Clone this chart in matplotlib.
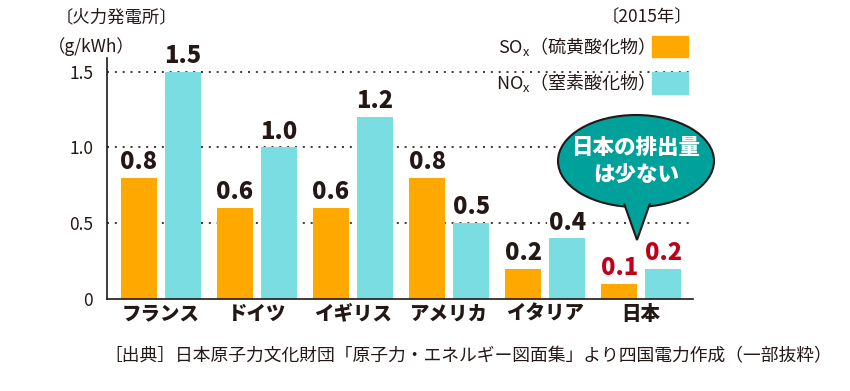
import matplotlib
matplotlib.use("Agg")
import matplotlib.pyplot as plt
from matplotlib.patches import Ellipse, Polygon
import numpy as np

plt.rcParams["font.family"] = ["Noto Sans CJK JP", "DejaVu Sans"]

# データ（2015年, g/kWh）
countries = ["フランス", "ドイツ", "イギリス", "アメリカ", "イタリア", "日本"]
sox = [0.8, 0.6, 0.6, 0.8, 0.2, 0.1]
nox = [1.5, 1.0, 1.2, 0.5, 0.4, 0.2]
yticks = [0, 0.5, 1.0, 1.5]
ytick_labels = ["0", "0.5", "1.0", "1.5"]

ORANGE = "#FFA800"
CYAN = "#7ADDE2"
DARK = "#231815"
RED = "#C0001A"
TEAL = "#00A19A"

W, H = 850, 391
fig = plt.figure(figsize=(W / 100, H / 100), dpi=100)
ax = fig.add_axes([107 / W, 1 - 299 / H, (693 - 107) / W, (299 - 58) / H])

x = np.arange(len(countries))
bw = 0.375
off = 0.229
ax.bar(x - off, sox, bw, color=ORANGE, zorder=2)
ax.bar(x + off, nox, bw, color=CYAN, zorder=2)

ax.set_xlim(-0.5625, 5.54)
ax.set_ylim(0, 1.59)
for v in yticks[1:]:
    ax.axhline(v, color=DARK, lw=1.2, ls=(0, (1.2, 3.5)), zorder=1)

# 値ラベル
for i in range(len(countries)):
    c = RED if countries[i] == "日本" else DARK
    for xx, v in ((x[i] - off, sox[i]), (x[i] + off, nox[i])):
        ax.text(xx, v + 0.025, f"{v:.1f}", ha="center", va="bottom",
                fontsize=17, fontweight="heavy", color=c, zorder=3,
                bbox=dict(facecolor="white", edgecolor="none", pad=1))

ax.set_yticks(yticks)
ax.set_yticklabels(ytick_labels, fontsize=12.5, color=DARK)
ax.set_xticks(x)
ax.set_xticklabels(countries, fontsize=14, fontweight="heavy", color=DARK)
ax.tick_params(axis="both", length=0)
ax.tick_params(axis="y", pad=10)
ax.tick_params(axis="x", pad=4)
for s in ("top", "right"):
    ax.spines[s].set_visible(False)
ax.spines["left"].set_color(DARK)
ax.spines["bottom"].set_color(DARK)
ax.spines["left"].set_linewidth(1.2)
ax.spines["bottom"].set_linewidth(1.2)

# 注釈用のピクセル座標オーバーレイ
ov = fig.add_axes([0, 0, 1, 1], facecolor="none")
ov.set_xlim(0, W)
ov.set_ylim(H, 0)
ov.axis("off")

ov.text(56, 17, "〔火力発電所〕", fontsize=12.5, color=DARK, ha="left", va="center")
ov.text(48, 47, "（g/kWh）", fontsize=12.5, color=DARK, ha="left", va="center")
ov.text(692, 17, "〔2015年〕", fontsize=12.5, color=DARK, ha="right", va="center")

# 凡例
ov.add_patch(plt.Rectangle((652, 36), 36, 21, color=ORANGE))
ov.add_patch(plt.Rectangle((652, 72), 36, 22, color=CYAN))
ov.text(645, 47, "SO$\\mathregular{_x}$（硫黄酸化物）", fontsize=13, color=DARK,
        ha="right", va="center")
ov.text(645, 83, "NO$\\mathregular{_x}$（窒素酸化物）", fontsize=13, color=DARK,
        ha="right", va="center")

# 吹き出し
ov.add_patch(Ellipse((636, 161), 156, 92, facecolor=TEAL, edgecolor=DARK, lw=1.5, zorder=5))
ov.add_patch(Polygon([(620, 192), (637, 240), (654, 192)], closed=True,
                     facecolor=TEAL, edgecolor=DARK, lw=1.5, zorder=6))
ov.add_patch(Ellipse((636, 161), 150, 86, facecolor=TEAL, edgecolor="none", zorder=7))
ov.text(636, 161, "日本の排出量\nは少ない", fontsize=15.5, fontweight="heavy",
        color="white", ha="center", va="center", linespacing=1.2, zorder=8)

ov.text(468, 356, "［出典］日本原子力文化財団「原子力・エネルギー図面集」より四国電力作成（一部抜粋）",
        fontsize=12.8, color=DARK, ha="center", va="center")

fig.savefig("out.png", dpi=100)
